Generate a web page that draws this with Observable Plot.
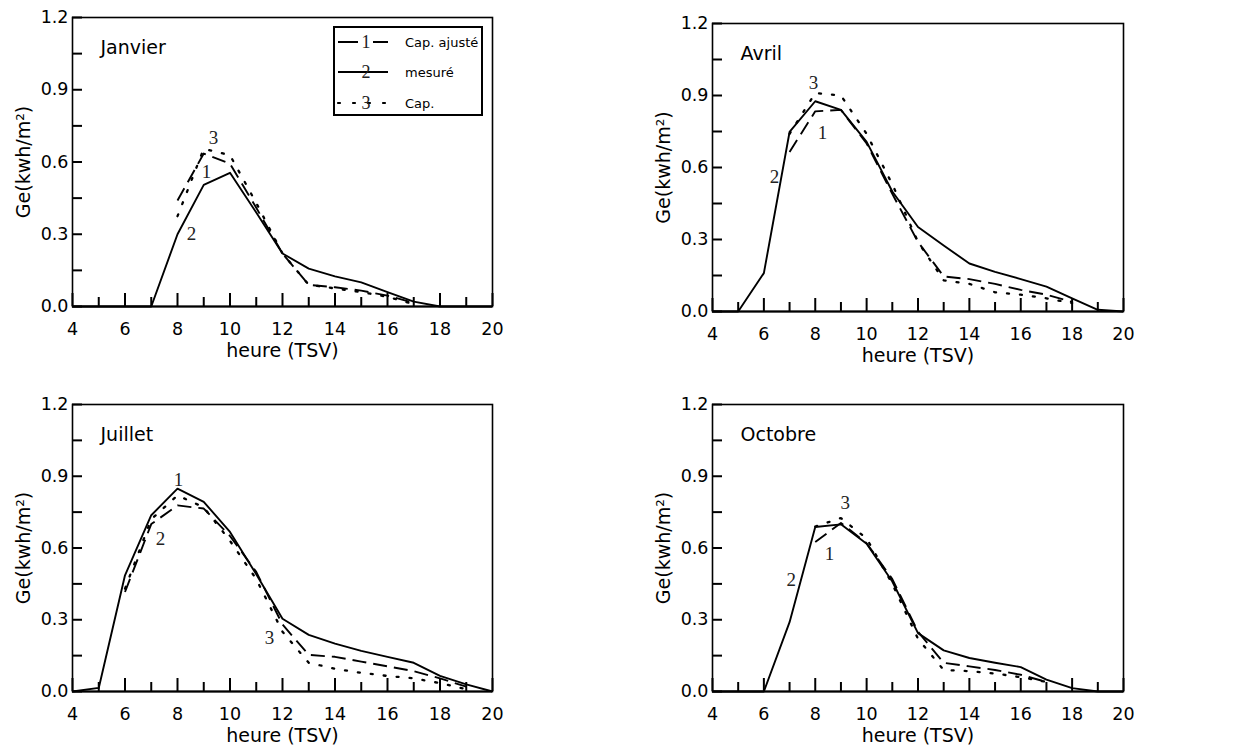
<!DOCTYPE html>
<html>
<head>
<meta charset="utf-8">
<script src="https://cdn.jsdelivr.net/npm/d3@7"></script>
<script src="https://cdn.jsdelivr.net/npm/@observablehq/plot@0.6"></script>
<style>
  html, body { margin: 0; padding: 0; background: #fff; }
  #wrap { position: relative; width: 1233px; height: 753px; overflow: hidden; }
  .panel { position: absolute; }
</style>
</head>
<body>
<div id="wrap"></div>
<script>
// ---------------- DATA ----------------
const hours = [4, 5, 6, 7, 8, 9, 10, 11, 12, 13, 14, 15, 16, 17, 18, 19, 20];
const seriesNames = ["Cap. ajusté", "mesuré", "Cap."];
const seriesNums = ["1", "2", "3"];
const months = ["Janvier", "Avril", "Juillet", "Octobre"];
const xMajorTicks = [4, 6, 8, 10, 12, 14, 16, 18, 20];
const xMinorTicks = [5, 7, 9, 11, 13, 15, 17, 19];
const yMajorTicks = [0, 0.3, 0.6, 0.9, 1.2];
const yMinorTicks = [0.15, 0.45, 0.75, 1.05];

// Janvier
const janMesure = [0, 0, 0, 0, 0.30, 0.505, 0.555, 0.39, 0.22, 0.157, 0.125, 0.10, 0.06, 0.02, 0, 0, 0];
const janAjuste = [null, null, null, null, 0.44, 0.635, 0.593, 0.41, 0.22, 0.09, 0.08, 0.066, 0.045, 0.015, null, null, null];
const janCap    = [null, null, null, null, 0.375, 0.655, 0.628, 0.43, 0.22, 0.09, 0.075, 0.06, 0.04, 0.01, null, null, null];
// Avril
const avrMesure = [0, 0, 0.16, 0.748, 0.876, 0.84, 0.707, 0.50, 0.352, 0.275, 0.20, 0.165, 0.135, 0.104, 0.055, 0.007, 0];
const avrAjuste = [null, null, null, 0.665, 0.834, 0.84, 0.70, 0.49, 0.29, 0.146, 0.135, 0.115, 0.09, 0.07, 0.04, null, null];
const avrCap    = [null, null, null, 0.74, 0.91, 0.90, 0.74, 0.53, 0.29, 0.13, 0.115, 0.08, 0.07, 0.055, 0.035, null, null];
// Juillet
const julMesure = [0, 0.015, 0.486, 0.737, 0.848, 0.793, 0.667, 0.49, 0.304, 0.237, 0.20, 0.17, 0.145, 0.12, 0.065, 0.03, 0];
const julAjuste = [null, null, 0.416, 0.70, 0.778, 0.765, 0.65, 0.50, 0.28, 0.153, 0.145, 0.125, 0.105, 0.085, 0.055, 0.02, null];
const julCap    = [null, null, 0.43, 0.72, 0.82, 0.77, 0.63, 0.47, 0.25, 0.12, 0.095, 0.078, 0.065, 0.055, 0.035, 0.01, null];
// Octobre
const octMesure = [0, 0, 0, 0.29, 0.688, 0.699, 0.618, 0.46, 0.244, 0.172, 0.14, 0.12, 0.102, 0.05, 0.014, 0, 0];
const octAjuste = [null, null, null, null, 0.625, 0.705, 0.62, 0.47, 0.25, 0.12, 0.105, 0.09, 0.07, 0.04, null, null, null];
const octCap    = [null, null, null, null, 0.69, 0.725, 0.64, 0.45, 0.22, 0.09, 0.085, 0.075, 0.06, 0.04, null, null, null];

// curve number annotations (data units)
const janLabNum = ["3", "1", "2"], janLabX = [9.37, 9.1, 8.53], janLabY = [0.70, 0.557, 0.30];
const avrLabNum = ["3", "1", "2"], avrLabX = [7.93, 8.28, 6.41], avrLabY = [0.954, 0.746, 0.56];
const julLabNum = ["1", "2", "3"], julLabX = [8.04, 7.35, 11.5], julLabY = [0.883, 0.64, 0.226];
const octLabNum = ["3", "1", "2"], octLabX = [9.17, 8.55, 7.07], octLabY = [0.787, 0.577, 0.468];

// ---------------- LAYOUT ----------------
const SANS = "'DejaVu Sans', Verdana, sans-serif";
const SERIF = "'Liberation Serif', 'Times New Roman', serif";

const panels = [
  {month: months[0], mes: janMesure, aju: janAjuste, cap: janCap, ln: janLabNum, lx: janLabX, ly: janLabY,
   left: 0, top: 0, width: 616, height: 375, ml: 72, mr: 124, mt: 17, mb: 69, legend: true},
  {month: months[1], mes: avrMesure, aju: avrAjuste, cap: avrCap, ln: avrLabNum, lx: avrLabX, ly: avrLabY,
   left: 616, top: 0, width: 617, height: 375, ml: 96, mr: 110, mt: 23, mb: 64},
  {month: months[2], mes: julMesure, aju: julAjuste, cap: julCap, ln: julLabNum, lx: julLabX, ly: julLabY,
   left: 0, top: 375, width: 616, height: 378, ml: 72, mr: 124, mt: 29, mb: 62},
  {month: months[3], mes: octMesure, aju: octAjuste, cap: octCap, ln: octLabNum, lx: octLabX, ly: octLabY,
   left: 616, top: 375, width: 617, height: 378, ml: 96, mr: 110, mt: 29, mb: 62}
];

const styles = {
  "Cap. ajusté": {strokeDasharray: "14,7", strokeWidth: 1.9},
  "mesuré": {strokeDasharray: null, strokeWidth: 1.9},
  "Cap.": {strokeDasharray: "2,11", strokeWidth: 2.3}
};

const wrap = document.getElementById("wrap");

for (const p of panels) {
  const innerW = p.width - p.ml - p.mr;
  const innerH = p.height - p.mt - p.mb;
  const series = {"Cap. ajusté": p.aju, "mesuré": p.mes, "Cap.": p.cap};
  const lineMarks = seriesNames.map(name => {
    const rows = hours.map((h, i) => ({h, v: series[name][i]}));
    return Plot.line(rows, {
      x: "h", y: "v", stroke: "#000",
      strokeWidth: styles[name].strokeWidth,
      strokeDasharray: styles[name].strokeDasharray,
      strokeLinecap: name === "Cap." ? "round" : "butt",
      strokeLinejoin: "round"
    });
  });
  const labels = p.ln.map((t, i) => ({t, x: p.lx[i], y: p.ly[i]}));

  const chart = Plot.plot({
    width: p.width, height: p.height,
    marginLeft: p.ml, marginRight: p.mr, marginTop: p.mt, marginBottom: p.mb,
    x: {domain: [4, 20], axis: null},
    y: {domain: [0, 1.2], axis: null},
    style: {fontFamily: SANS, fontSize: "17px", color: "#000", background: "transparent", overflow: "visible"},
    marks: [
      Plot.frame({stroke: "#000", strokeWidth: 1.6}),
      Plot.ruleY([0], {stroke: "#000", strokeWidth: 2}),
      // inward ticks
      Plot.tickX(xMajorTicks, {x: d => d, insetTop: innerH - 13, stroke: "#000", strokeWidth: 2}),
      Plot.tickX(xMinorTicks, {x: d => d, insetTop: innerH - 9, stroke: "#000", strokeWidth: 2}),
      Plot.tickY(yMajorTicks.concat(yMinorTicks), {y: d => d, insetRight: innerW - 10, stroke: "#000", strokeWidth: 2}),
      // tick labels + axis labels
      Plot.axisX(xMajorTicks, {tickSize: 0, tickPadding: 16, fontSize: 17.5, fontFamily: SANS, label: null}),
      Plot.text(["heure (TSV)"], {frameAnchor: "bottom", dy: 44, lineAnchor: "middle", fontSize: 19, fontFamily: SANS}),
      Plot.axisY(yMajorTicks, {tickSize: 0, tickPadding: 4, tickFormat: d3.format(".1f"), fontSize: 17.5, fontFamily: SANS, label: null}),
      Plot.text(["Ge(kwh/m²)"], {frameAnchor: "left", dx: -49, rotate: -90, textAnchor: "middle", lineAnchor: "middle", fontSize: 19, fontFamily: SANS}),
      ...lineMarks,
      Plot.text(labels, {x: "x", y: "y", text: "t", fontFamily: SERIF, fontSize: 19, fill: "#222"}),
      Plot.text([p.month], {frameAnchor: "top-left", dx: 28, dy: 30, textAnchor: "start", lineAnchor: "middle", fontSize: 19, fontFamily: SANS})
    ]
  });
  const div = document.createElement("div");
  div.className = "panel";
  div.style.left = p.left + "px";
  div.style.top = p.top + "px";
  div.appendChild(chart);
  wrap.appendChild(div);

  if (p.legend) {
    const lw = 148, lh = 88;
    const leg = d3.create("svg").attr("width", lw).attr("height", lh)
      .style("position", "absolute")
      .style("left", (p.left + 334) + "px")
      .style("top", (p.top + 27) + "px")
      .style("overflow", "visible");
    leg.append("rect").attr("x", 0).attr("y", 0).attr("width", lw).attr("height", lh)
      .attr("fill", "#fff").attr("stroke", "#000").attr("stroke-width", 2);
    const rowY = [15, 45, 76];
    const legDash = {"Cap. ajusté": "20,15", "mesuré": null, "Cap.": "2,13"};
    seriesNames.forEach((name, i) => {
      const g = leg.append("g");
      g.append("line").attr("x1", 4).attr("x2", 54).attr("y1", rowY[i]).attr("y2", rowY[i])
        .attr("stroke", "#000").attr("stroke-width", name === "Cap." ? 2.2 : 1.8)
        .attr("stroke-linecap", name === "Cap." ? "round" : "butt")
        .attr("stroke-dasharray", legDash[name]);
      g.append("text").attr("x", 32).attr("y", rowY[i]).attr("dy", "0.35em")
        .attr("text-anchor", "middle")
        .attr("font-family", SERIF)
        .attr("font-size", 18).attr("fill", "#222").text(seriesNums[i]);
      g.append("text").attr("x", 71).attr("y", rowY[i]).attr("dy", "0.35em")
        .attr("font-family", SANS)
        .attr("font-size", 13).attr("fill", "#000").text(name);
    });
    wrap.appendChild(leg.node());
  }
}
</script>
</body>
</html>
